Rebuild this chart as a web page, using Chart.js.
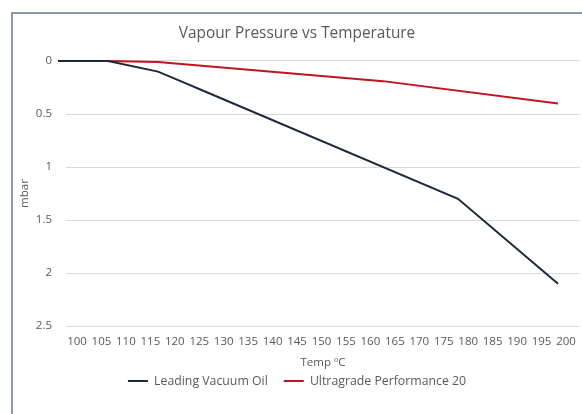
<!DOCTYPE html>
<html><head><meta charset="utf-8">
<script src="https://cdn.jsdelivr.net/npm/chart.js@4.4.0/dist/chart.umd.min.js"></script>
<style>
html,body{margin:0;padding:0;background:#fff;}
#wrap{position:relative;width:582px;height:414px;overflow:hidden;background:#fff;}
#frame{position:absolute;left:11px;top:12px;width:620px;height:440px;border-left:2px solid #8d9aa6;border-top:2px solid #8d9aa6;pointer-events:none;}
canvas{position:absolute;left:0;top:0;}
</style></head><body>
<div id="wrap"><canvas id="c" width="582" height="414"></canvas><div id="frame"></div></div>
<script>
// Data
const seriesNames = ['Leading Vacuum Oil', 'Ultragrade Performance 20'];
const leadingTemps = [100, 110, 120, 125, 130, 180, 200];
const leadingValues = [0, 0, 0.1, 0.2, 0.3, 1.3, 2.1];
const ultraTemps = [100, 110, 120, 165, 200];
const ultraValues = [0, 0, 0.01, 0.19, 0.4];
const tempTicks = [100, 105, 110, 115, 120, 125, 130, 135, 140, 145, 150, 155, 160, 165, 170, 175, 180, 185, 190, 195, 200];
const pressureTicks = [0, 0.5, 1, 1.5, 2, 2.5];

const toPoints = (xs, ys) => xs.map((x, i) => ({x: x, y: ys[i]}));
const txt = '#595959';
Chart.defaults.font.family = "'Open Sans', sans-serif";
Chart.defaults.color = txt;

new Chart(document.getElementById('c'), {
  type: 'line',
  data: {
    datasets: [
      {label: seriesNames[0], data: toPoints(leadingTemps, leadingValues), borderColor: '#1f2838', backgroundColor: '#1f2838', borderWidth: 2, pointRadius: 0, tension: 0, clip: false, xAxisID: 'x', yAxisID: 'y'},
      {label: seriesNames[1], data: toPoints(ultraTemps, ultraValues), borderColor: '#c0141f', backgroundColor: '#c0141f', borderWidth: 2, pointRadius: 0, tension: 0, clip: false, xAxisID: 'x', yAxisID: 'y'}
    ]
  },
  options: {
    responsive: false,
    animation: false,
    events: [],
    layout: {padding: {left: 14, right: 2, top: 0, bottom: 16.75}},
    plugins: {
      title: {display: true, text: 'Vapour Pressure vs Temperature', color: txt,
        font: {size: 15.4, weight: 'normal', lineHeight: 1.2}, padding: {top: 24.8, bottom: 17.7}},
      legend: {position: 'bottom',
        labels: {usePointStyle: true, pointStyle: 'line', pointStyleWidth: 20, padding: 16,
          color: txt, font: {size: 12.3}}},
      tooltip: {enabled: false}
    },
    scales: {
      x: {type: 'linear', display: false, min: 101.6, max: 204.4},
      xt: {type: 'linear', position: 'bottom', min: 97.75, max: 202.86,
        afterBuildTicks: s => { s.ticks = tempTicks.map(v => ({value: v})); },
        afterFit: s => { s.height = 32.85; s.paddingLeft = 0; s.paddingRight = 0; },
        grid: {display: false, drawTicks: false},
        border: {display: false},
        ticks: {autoSkip: false, maxRotation: 0, minRotation: 0, padding: 9, color: txt, font: {size: 11.5},
          callback: v => String(v)},
        title: {display: true, text: 'Temp ºC', color: txt, font: {size: 11.5, lineHeight: 1.2}, padding: {top: 0, bottom: -10.5}}
      },
      y: {type: 'linear', reverse: true, min: 0, max: 2.5,
        afterBuildTicks: s => { s.ticks = pressureTicks.map(v => ({value: v})); },
        afterFit: s => { s.width = 52; s.paddingTop = 0; s.paddingBottom = 0; },
        grid: {color: '#d9d9d9', lineWidth: 1, drawTicks: false},
        border: {display: false},
        ticks: {padding: 14, color: txt, font: {size: 11.5}, callback: v => String(v)},
        title: {display: true, text: 'mbar', color: txt, font: {size: 11.5, lineHeight: 1.2}, padding: {top: 4, bottom: 0}}
      }
    }
  }
});
</script>
</body></html>
